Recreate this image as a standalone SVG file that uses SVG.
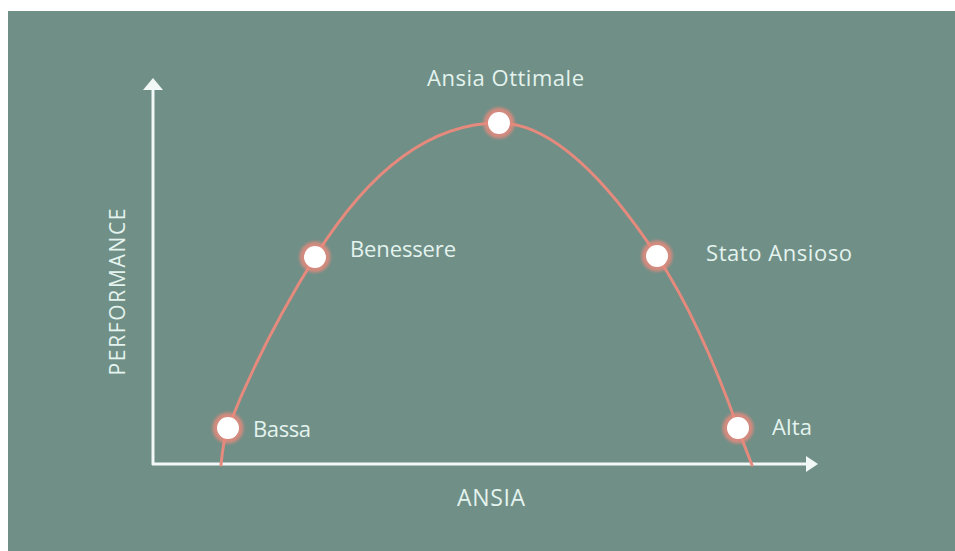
<svg xmlns="http://www.w3.org/2000/svg" width="955" height="551" viewBox="0 0 955 551">
<defs>
<style>
.lbl{font-family:"Open Sans","Noto Sans","Liberation Sans",sans-serif;fill:#e4f3ee;font-size:22px}
.axis{stroke:#f2f8f6;stroke-width:3;fill:none}
.curve{stroke:#e58a7d;stroke-width:3;fill:none;stroke-linecap:round}
.halo{fill:#e58a7d;opacity:0.85}
.dot{fill:#ffffff}
</style>
<filter id="blur" x="-50%" y="-50%" width="200%" height="200%"><feGaussianBlur stdDeviation="1.5"/></filter>
</defs>
<rect x="0" y="0" width="955" height="551" fill="#ffffff"/>
<rect x="8" y="11" width="947" height="540" fill="#6f8f87"/>
<g id="axes">
<line class="axis" x1="153" y1="86" x2="153" y2="465"/>
<polygon points="153,78 143,90 163,90" fill="#f2f8f6"/>
<line class="axis" x1="152" y1="464" x2="808" y2="464"/>
<polygon points="818,464 806,456 806,472" fill="#f2f8f6"/>
<text class="lbl" x="491" y="506" text-anchor="middle" textLength="68" style="font-size:23px">ANSIA</text>
<text class="lbl" transform="translate(125,292) rotate(-90)" text-anchor="middle" textLength="167" style="font-size:21px">PERFORMANCE</text>
</g>
<g id="connectors">
<path class="curve" d="M221,465 C222,455 223.2,440.1 228,428 C251.4,368.4 281.1,311.4 315,257 C370.7,167.7 432,123 499,123 C545.7,123 598.3,167.3 657,256 C691.7,308.3 716.8,368.8 738,428 C742.4,440.2 750,460 752,465"/>
</g>
<g id="node-bassa">
<circle class="halo" cx="228" cy="428" r="15.5" filter="url(#blur)"/>
<circle class="dot" cx="228" cy="428" r="11"/>
<text class="lbl" x="253" y="437" textLength="58">Bassa</text>
</g>
<g id="node-benessere">
<circle class="halo" cx="315" cy="257" r="15.5" filter="url(#blur)"/>
<circle class="dot" cx="315" cy="257" r="11"/>
<text class="lbl" x="350" y="257" textLength="106">Benessere</text>
</g>
<g id="node-ottimale">
<circle class="halo" cx="499" cy="123" r="15.5" filter="url(#blur)"/>
<circle class="dot" cx="499" cy="123" r="11"/>
<text class="lbl" x="427" y="86" textLength="157">Ansia Ottimale</text>
</g>
<g id="node-ansioso">
<circle class="halo" cx="657" cy="256" r="15.5" filter="url(#blur)"/>
<circle class="dot" cx="657" cy="256" r="11"/>
<text class="lbl" x="706" y="261" textLength="146">Stato Ansioso</text>
</g>
<g id="node-alta">
<circle class="halo" cx="738" cy="428" r="15.5" filter="url(#blur)"/>
<circle class="dot" cx="738" cy="428" r="11"/>
<text class="lbl" x="772" y="435" textLength="40">Alta</text>
</g>
</svg>
